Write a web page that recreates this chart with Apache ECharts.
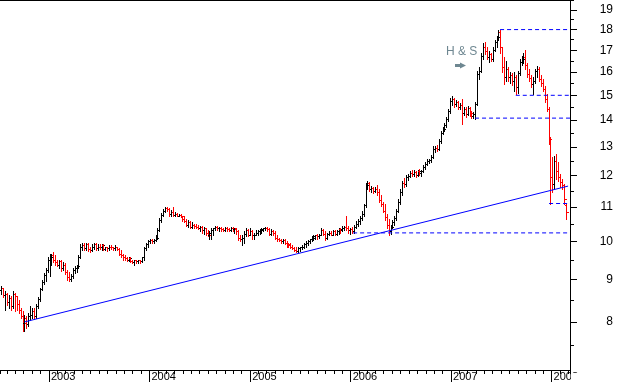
<!DOCTYPE html>
<html><head><meta charset="utf-8">
<script src="https://cdn.jsdelivr.net/npm/echarts@6.0.0/dist/echarts.min.js"></script>
<style>html,body{margin:0;padding:0;background:#fff;}#c{width:617px;height:382px;}</style>
</head><body><div id="c"></div>
<script>
// Weekly OHLC bars [open, high, low, close], first week ending 2002-07-12
const firstWeek = [2002, 7, 12];
const q2002 = [
[8.73,8.83,8.64,8.78],[8.78,8.80,8.57,8.61],[8.61,8.71,8.27,8.64],[8.64,8.66,8.38,8.45],[8.45,8.61,8.31,8.54],
[8.54,8.59,8.27,8.36],[8.36,8.71,8.31,8.64],[8.64,8.66,8.25,8.59],[8.59,8.59,8.27,8.40],[8.40,8.50,8.20,8.27],
[8.27,8.31,8.09,8.13],[8.13,8.25,7.80,7.98],[7.98,8.16,7.80,8.09],[8.09,8.13,7.87,7.96],[7.96,8.20,7.91,8.13],
[8.13,8.36,8.05,8.16],[8.16,8.31,8.09,8.25],[8.25,8.31,8.07,8.13],[8.13,8.40,8.09,8.36],[8.36,8.57,8.31,8.52],
[8.52,8.78,8.47,8.76],[8.76,8.98,8.73,8.93],[8.93,9.15,8.88,9.10],[9.10,9.28,8.96,9.23],[9.23,9.59,9.18,9.49]
];
const q2003 = [
[9.49,9.67,9.08,9.59],[9.59,9.67,9.38,9.64],[9.64,9.70,9.44,9.51],[9.51,9.62,9.38,9.44],[9.44,9.51,9.33,9.38],
[9.38,9.49,9.28,9.46],[9.46,9.49,9.20,9.28],[9.28,9.44,9.23,9.38],[9.38,9.41,9.13,9.18],[9.18,9.23,8.98,9.05],
[9.05,9.18,8.96,9.00],[9.00,9.13,8.96,9.08],[9.08,9.28,9.03,9.23],[9.23,9.33,9.15,9.28],[9.28,9.38,9.18,9.33],
[9.33,9.64,9.28,9.59],[9.59,9.92,9.54,9.84],[9.84,9.97,9.76,9.89],[9.89,9.95,9.76,9.81],[9.81,9.95,9.76,9.92],
[9.92,9.95,9.73,9.78],[9.78,9.86,9.70,9.76],[9.76,9.92,9.73,9.86],[9.86,9.95,9.78,9.92],[9.92,9.95,9.76,9.81],
[9.81,9.92,9.76,9.86],[9.86,9.92,9.78,9.84],[9.84,9.92,9.76,9.89],[9.89,9.92,9.76,9.78],[9.78,9.86,9.76,9.84],
[9.84,9.86,9.73,9.81],[9.81,9.89,9.76,9.86],[9.86,9.89,9.78,9.84],[9.84,9.86,9.76,9.81],[9.81,9.89,9.76,9.84],
[9.84,9.86,9.76,9.78],[9.78,9.81,9.62,9.67],[9.67,9.76,9.59,9.64],[9.64,9.67,9.51,9.57],[9.57,9.64,9.49,9.54],
[9.54,9.59,9.46,9.49],[9.49,9.59,9.46,9.54],[9.54,9.57,9.44,9.46],[9.46,9.51,9.41,9.44],[9.44,9.51,9.38,9.49],
[9.49,9.51,9.41,9.46],[9.46,9.51,9.41,9.49],[9.49,9.51,9.41,9.46],[9.46,9.59,9.44,9.57],[9.57,9.86,9.51,9.81],
[9.81,9.97,9.76,9.92],[9.92,10.03,9.86,10.00]
];
const q2004 = [
[10.00,10.06,9.95,10.03],[10.03,10.06,9.97,10.00],[10.00,10.06,9.97,10.03],[10.03,10.17,10.00,10.11],[10.11,10.37,10.06,10.31],
[10.31,10.66,10.28,10.60],[10.60,10.83,10.54,10.77],[10.77,10.95,10.72,10.89],[10.89,11.01,10.86,10.98],[10.98,11.01,10.89,10.95],
[10.95,10.98,10.72,10.80],[10.80,10.92,10.74,10.86],[10.86,11.01,10.72,10.77],[10.77,10.86,10.72,10.80],[10.80,10.83,10.72,10.74],
[10.74,10.80,10.72,10.77],[10.77,10.80,10.69,10.72],[10.72,10.74,10.57,10.63],[10.63,10.72,10.54,10.57],[10.57,10.63,10.45,10.48],
[10.48,10.60,10.42,10.54],[10.54,10.57,10.37,10.42],[10.42,10.54,10.39,10.48],[10.48,10.51,10.39,10.45],[10.45,10.51,10.37,10.42],
[10.42,10.48,10.34,10.39],[10.39,10.45,10.28,10.42],[10.42,10.45,10.25,10.31],[10.31,10.42,10.22,10.37],[10.37,10.39,10.19,10.25],
[10.25,10.31,10.14,10.19],[10.19,10.28,10.08,10.25],[10.25,10.37,10.08,10.31],[10.31,10.39,10.19,10.37],[10.37,10.45,10.31,10.42],
[10.42,10.45,10.31,10.37],[10.37,10.42,10.28,10.39],[10.39,10.42,10.28,10.34],[10.34,10.39,10.28,10.31],[10.31,10.42,10.28,10.39],
[10.39,10.42,10.28,10.34],[10.34,10.39,10.28,10.31],[10.31,10.42,10.28,10.39],[10.39,10.42,10.28,10.34],[10.34,10.39,10.25,10.37],
[10.37,10.39,10.22,10.28],[10.28,10.31,10.03,10.11],[10.11,10.19,10.00,10.06],[10.06,10.17,9.89,10.11],[10.11,10.28,9.97,10.22],
[10.22,10.37,10.14,10.31],[10.31,10.34,10.14,10.19],[10.19,10.37,10.17,10.28]
];
const q2005 = [
[10.28,10.31,10.08,10.17],[10.17,10.25,10.08,10.19],[10.19,10.31,10.17,10.25],[10.25,10.31,10.19,10.28],[10.28,10.34,10.22,10.31],
[10.31,10.37,10.25,10.34],[10.34,10.39,10.28,10.37],[10.37,10.42,10.31,10.39],[10.39,10.42,10.28,10.34],[10.34,10.39,10.17,10.22],
[10.22,10.34,10.19,10.28],[10.28,10.31,10.19,10.25],[10.25,10.28,10.06,10.11],[10.11,10.17,10.00,10.06],[10.06,10.11,10.00,10.03],
[10.03,10.06,9.95,10.00],[10.00,10.06,9.95,10.03],[10.03,10.06,9.92,9.95],[9.95,10.00,9.86,9.92],[9.92,9.97,9.86,9.89],
[9.89,9.95,9.81,9.84],[9.84,9.89,9.78,9.81],[9.81,9.86,9.73,9.76],[9.76,9.84,9.70,9.73],[9.73,9.84,9.70,9.81],
[9.81,9.86,9.73,9.84],[9.84,9.89,9.78,9.86],[9.86,9.95,9.81,9.92],[9.92,10.00,9.86,9.97],[9.97,10.03,9.89,10.00],
[10.00,10.08,9.95,10.06],[10.06,10.14,10.00,10.11],[10.11,10.17,10.03,10.14],[10.14,10.19,10.08,10.17],[10.17,10.22,10.08,10.14],
[10.14,10.22,10.11,10.19],[10.19,10.37,10.17,10.31],[10.31,10.34,10.17,10.22],[10.22,10.28,10.03,10.11],[10.11,10.25,10.08,10.22],
[10.22,10.28,10.17,10.25],[10.25,10.28,10.17,10.19],[10.19,10.31,10.17,10.28],[10.28,10.31,10.17,10.22],[10.22,10.31,10.19,10.28],
[10.28,10.37,10.22,10.34],[10.34,10.37,10.25,10.31],[10.31,10.45,10.28,10.39],[10.39,10.45,10.31,10.42],[10.42,10.74,10.31,10.37],
[10.37,10.45,10.25,10.31],[10.31,10.39,10.22,10.34]
];
const q2006 = [
[10.34,10.42,10.25,10.28],[10.28,10.48,10.25,10.42],[10.42,10.57,10.37,10.51],[10.51,10.63,10.45,10.57],[10.57,10.72,10.51,10.66],
[10.66,10.87,10.60,10.80],[10.80,11.11,10.74,11.05],[11.05,11.77,10.99,11.70],[11.70,11.84,11.57,11.77],[11.77,11.80,11.51,11.57],
[11.57,11.67,11.48,11.60],[11.60,11.64,11.45,11.51],[11.51,11.64,11.48,11.57],[11.57,11.70,11.39,11.48],[11.48,11.57,11.17,11.23],
[11.23,11.39,11.02,11.08],[11.08,11.17,10.84,10.89],[10.89,11.08,10.60,10.69],[10.69,10.80,10.37,10.48],[10.48,10.63,10.19,10.28],
[10.28,10.48,10.22,10.42],[10.42,10.60,10.37,10.54],[10.54,10.72,10.48,10.66],[10.66,10.95,10.60,10.89],[10.89,11.26,10.84,11.17],
[11.17,11.57,11.11,11.48],[11.48,11.84,11.39,11.77],[11.77,11.93,11.64,11.74],[11.74,12.03,11.67,11.96],[11.96,12.06,11.87,12.00],
[12.00,12.16,11.96,12.09],[12.09,12.19,12.00,12.06],[12.06,12.19,12.00,12.13],[12.13,12.16,11.96,12.03],[12.03,12.19,12.00,12.16],
[12.16,12.23,12.03,12.09],[12.09,12.19,12.00,12.16],[12.16,12.36,12.13,12.30],[12.30,12.47,12.23,12.40],[12.40,12.57,12.36,12.50],
[12.50,12.57,12.43,12.54],[12.54,12.71,12.47,12.64],[12.64,13.03,12.61,12.93],[12.93,13.03,12.82,12.96],[12.96,13.07,12.86,12.93],
[12.93,13.29,12.89,13.21],[13.21,13.58,13.14,13.51],[13.51,13.73,13.47,13.66],[13.66,13.89,13.58,13.81],[13.81,14.12,13.73,14.04],
[14.04,14.43,13.96,14.35],[14.35,14.88,14.28,14.76]
];
const q2007 = [
[14.76,14.96,14.59,14.84],[14.84,14.88,14.51,14.63],[14.63,14.80,14.55,14.72],[14.72,14.76,14.43,14.51],[14.51,14.67,14.43,14.59],
[14.59,14.84,13.85,14.28],[14.28,14.51,14.20,14.43],[14.43,14.51,14.12,14.24],[14.24,14.55,14.20,14.47],[14.47,14.51,14.16,14.28],
[14.28,14.35,14.08,14.16],[14.16,14.32,14.08,14.24],[14.24,14.72,14.04,14.63],[14.63,16.03,14.59,15.90],[15.90,16.21,15.68,16.03],
[16.03,16.85,15.99,16.71],[16.71,17.32,16.57,17.17],[17.17,17.41,16.80,16.94],[16.94,17.13,16.57,16.66],[16.66,16.94,16.43,16.80],
[16.80,16.89,16.48,16.57],[16.57,17.13,16.48,17.03],[17.03,17.51,16.94,17.37],[17.37,17.70,17.17,17.61],[17.61,18.00,17.51,17.90],
[17.90,18.00,16.89,17.13],[17.13,17.17,15.99,16.21],[16.21,16.66,15.47,15.77],[15.77,16.48,15.60,16.12],[16.12,16.21,15.60,15.77],
[15.77,15.99,15.51,15.86],[15.86,15.95,15.43,15.60],[15.60,15.99,15.17,15.77],[15.77,15.86,15.04,15.34],[15.34,16.03,15.08,15.95],
[15.95,16.57,15.86,16.43],[16.43,16.71,16.30,16.57],[16.57,16.85,16.39,16.66],[16.66,17.03,16.12,16.30],[16.30,16.39,15.77,15.90],
[15.90,16.12,15.60,15.73],[15.73,15.86,15.34,15.47],[15.47,15.77,15.04,15.60],[15.60,16.12,15.51,16.03],[16.03,16.25,15.77,16.12],
[16.12,16.21,15.60,15.68],[15.68,15.86,15.38,15.51],[15.51,15.68,15.17,15.25],[15.25,15.38,14.72,14.84],[14.84,15.04,14.35,14.43],
[14.43,14.51,13.10,13.29],[13.29,13.36,11.11,11.96]
];
const q2008 = [
[11.96,12.64,11.48,11.74],[11.74,12.68,11.57,12.50],[12.50,12.75,11.90,12.16],[12.16,12.47,11.84,11.96],
[11.96,12.06,11.64,11.80],[11.80,11.90,11.57,11.70],[11.70,11.74,11.11,11.26],[11.05,11.11,10.63,10.84]
];

// Trend line and horizontal reference levels
const trendDates = ['2002-10-05', '2008-03-01'];
const trendPrices = [8.0, 11.66];
const levelPrices = [18.0, 15.0, 14.08, 11.11, 10.24];
const levelStarts = ['2007-06-28', '2007-08-24', '2007-03-29', '2007-12-23', '2006-01-10'];

// Axis ticks
const yTickValues = [8, 9, 10, 11, 12, 13, 14, 15, 16, 17, 18, 19];
const yMinorValues = [7.5, 8.5, 9.5, 10.5, 11.5, 12.5, 13.5, 14.5, 15.5, 16.5, 17.5, 18.5, 19.5];
const axisStart = '2002-07-07', axisEnd = '2008-03-08';
const priceMin = 7.0, priceMax = 19.54;

const FONT = '"Liberation Sans", Arial, sans-serif';
const DAY = 864e5;
const L = Math.log10;
function d(s) { const p = s.split('-').map(Number); return new Date(p[0], p[1] - 1, p[2]).getTime(); }

const weeklyBars = [].concat(q2002, q2003, q2004, q2005, q2006, q2007, q2008);
const barData = weeklyBars.map((b, i) => [
  new Date(firstWeek[0], firstWeek[1] - 1, firstWeek[2] + 7 * i).getTime(),
  L(b[0]), L(b[1]), L(b[2]), L(b[3])
]);
const xMin = d(axisStart), xMax = d(axisEnd);

const series = [{
  type: 'custom',
  xAxisIndex: 0, yAxisIndex: 0,
  clip: true,
  encode: { x: 0, y: [1, 2, 3, 4] },
  data: barData,
  z: 2,
  renderItem: function (params, api) {
    const t = api.value(0);
    const o = api.value(1), h = api.value(2), l = api.value(3), c = api.value(4);
    const pH = api.coord([t, h]), pL = api.coord([t, l]);
    const pO = api.coord([t, o]), pC = api.coord([t, c]);
    const x = Math.round(pH[0]);
    const yt = Math.round(pH[1]), yb = Math.round(pL[1]);
    const col = c < o ? '#ff0000' : '#000000';
    return { type: 'group', children: [
      { type: 'rect', shape: { x: x, y: yt, width: 1, height: Math.max(1, yb - yt + 1) }, style: { fill: col } },
      { type: 'rect', shape: { x: x - 1, y: Math.round(pO[1]), width: 1, height: 1 }, style: { fill: col } },
      { type: 'rect', shape: { x: x + 1, y: Math.round(pC[1]), width: 2, height: 1 }, style: { fill: col } }
    ]};
  }
}, {
  type: 'line', xAxisIndex: 0, yAxisIndex: 0, symbol: 'none', silent: true, z: 4,
  data: trendDates.map((t, i) => [d(t), L(trendPrices[i])]),
  lineStyle: { color: '#0000ff', width: 1 }
}];
levelPrices.forEach((p, i) => {
  series.push({
    type: 'line', xAxisIndex: 0, yAxisIndex: 0, symbol: 'none', silent: true, z: 4,
    data: [[d(levelStarts[i]), L(p)], [xMax, L(p)]],
    lineStyle: { color: '#0000ff', width: 1, type: [4, 3] }
  });
});

const chart = echarts.init(document.getElementById('c'), null, { renderer: 'canvas' });
chart.setOption({
  animation: false,
  backgroundColor: '#ffffff',
  grid: { left: 0, right: 47, top: 0, bottom: 10, containLabel: false },
  xAxis: [
    { type: 'time', min: xMin, max: xMax, position: 'bottom', splitNumber: 80,
      minInterval: 28 * DAY, maxInterval: 31 * DAY,
      axisLine: { show: true, lineStyle: { color: '#000', width: 1 } },
      axisTick: { show: true, length: 4, lineStyle: { color: '#000' } },
      axisLabel: { show: false }, splitLine: { show: false } },
    { type: 'time', min: xMin, max: xMax, position: 'bottom',
      minInterval: 360 * DAY, maxInterval: 370 * DAY,
      axisLine: { show: false },
      axisTick: { show: true, length: 12, lineStyle: { color: '#000' } },
      axisLabel: { show: true, margin: 1, align: 'left', padding: [0, 0, 0, 2], fontSize: 11,
        color: '#000', fontFamily: FONT,
        formatter: function (v) { const dt = new Date(v); return (dt.getMonth() === 0 && dt.getDate() === 1) ? String(dt.getFullYear()) : ''; } },
      splitLine: { show: false } },
    { type: 'time', min: xMin, max: xMax, position: 'top',
      axisLine: { show: true, lineStyle: { color: '#000', width: 1 } },
      axisTick: { show: false }, axisLabel: { show: false }, splitLine: { show: false } }
  ],
  yAxis: [
    { type: 'value', position: 'right', min: L(priceMin), max: L(priceMax),
      axisLine: { show: true, lineStyle: { color: '#000', width: 1 } },
      axisTick: { show: true, length: 7, customValues: yTickValues.map(L), lineStyle: { color: '#000' } },
      axisLabel: { show: true, customValues: yTickValues.map(L), align: 'right', margin: 43,
        fontSize: 12, color: '#000', fontFamily: FONT,
        formatter: function (v) { return String(Math.round(Math.pow(10, v))); } },
      splitLine: { show: false } },
    { type: 'value', position: 'right', min: L(priceMin), max: L(priceMax),
      axisLine: { show: false },
      axisTick: { show: true, length: 4, customValues: yMinorValues.map(L), lineStyle: { color: '#000' } },
      axisLabel: { show: false }, splitLine: { show: false } }
  ],
  graphic: [
    { type: 'text', left: 446, top: 46, z: 10,
      style: { text: 'H & S', fill: '#6e8791', font: '12px ' + FONT } },
    { type: 'polygon', z: 10,
      shape: { points: [[455, 64], [460, 64], [460, 62.5], [466, 65.5], [460, 68.5], [460, 67], [455, 67]] },
      style: { fill: '#6e8791' } },
    { type: 'rect', z: 20, shape: { x: 571, y: 373, width: 12, height: 9 }, style: { fill: '#ffffff' } }
  ],
  series: series
});
</script></body></html>
